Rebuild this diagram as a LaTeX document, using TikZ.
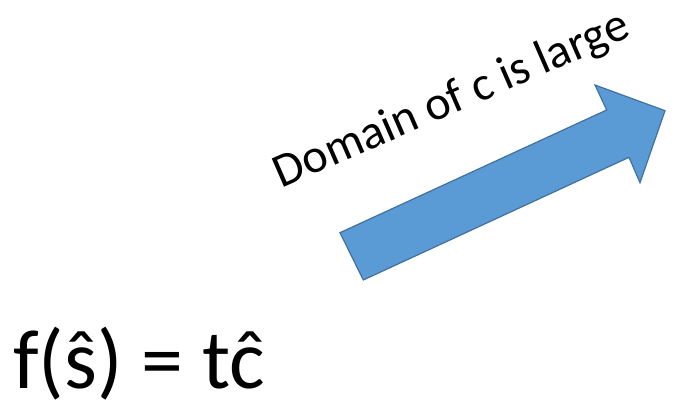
\documentclass[tikz,border=0pt]{standalone}
\usepackage{fontspec}
\setmainfont{Carlito}
\usepackage{xcolor}
\usetikzlibrary{calc, positioning}

\definecolor{arrowfill}{HTML}{5B9BD5}
\definecolor{arrowline}{HTML}{41719C}

\begin{document}
\begin{tikzpicture}[x=1pt, y=-1pt]
    % Khung của hình: 690 x 404
    \useasboundingbox (0,0) rectangle (690,404);

    % Mũi tên khối màu xanh
    \filldraw[fill=arrowfill, draw=arrowline, line width=1.2pt, line join=miter]
        (340,232.7) -- (606.7,110) -- (595,85) -- (665,110.7)
        -- (640,182.7) -- (629,157.3) -- (363.3,280) -- cycle;

    % Nhãn nghiêng phía trên mũi tên
    \node[rotate=23.5, font=\fontsize{48}{56}\selectfont, inner sep=0pt] (domain) at (452,101) {Domain of c is large};

    % Công thức ở góc dưới bên trái
    \node[anchor=base west, font=\fontsize{84}{100}\selectfont, inner sep=0pt] (formula) at (13,388) {f(ŝ) = tĉ};
\end{tikzpicture}
\end{document}
